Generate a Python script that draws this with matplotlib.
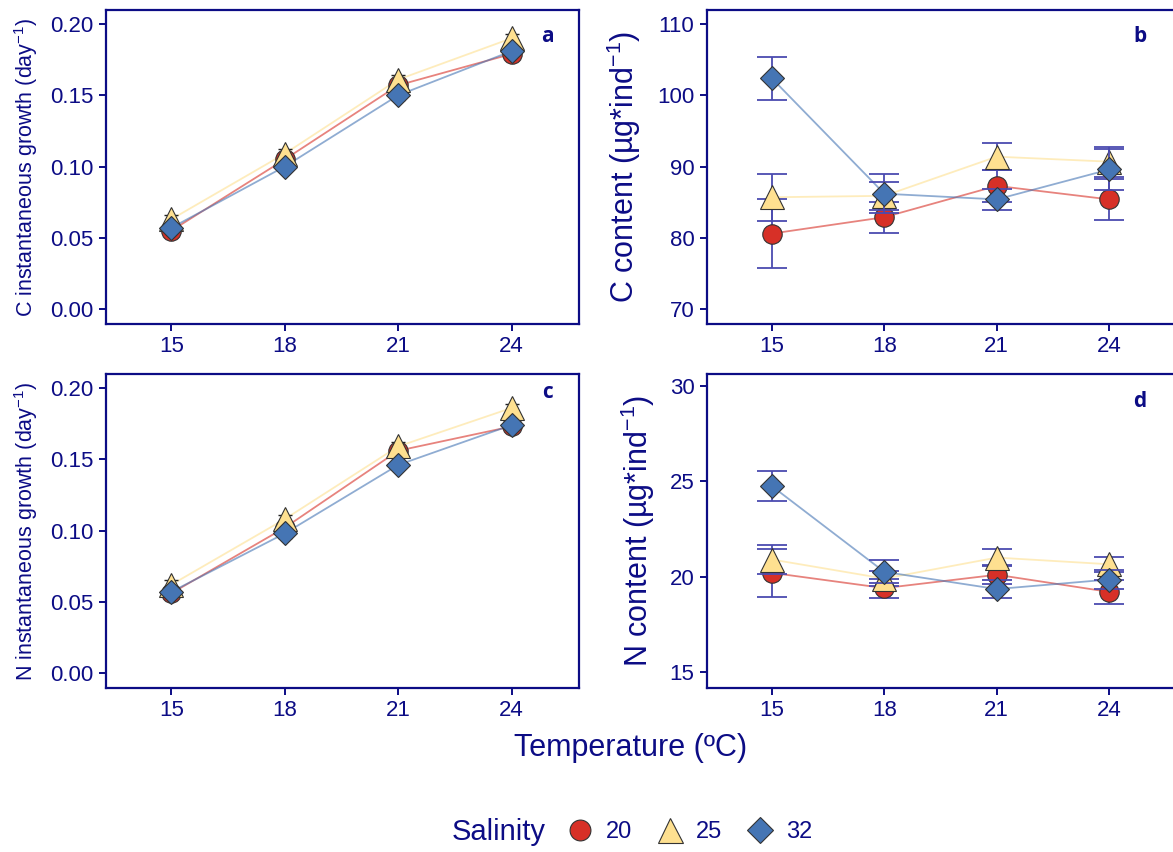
import numpy as np
import matplotlib.pyplot as plt
from matplotlib.lines import Line2D
from matplotlib.ticker import FormatStrFormatter

# Data
temps = [15, 18, 21, 24]
salinity = ['20', '25', '32']

c_growth_20 = [0.055, 0.105, 0.157, 0.179]
c_growth_25 = [0.063, 0.109, 0.161, 0.190]
c_growth_32 = [0.057, 0.100, 0.150, 0.181]
c_growth_err = [0.003, 0.003, 0.003, 0.003]

c_content_20 = [80.6, 82.9, 87.3, 85.4]
c_content_25 = [85.7, 85.9, 91.4, 90.7]
c_content_32 = [102.4, 86.2, 85.4, 89.6]
c_content_err_20 = [4.9, 2.2, 2.2, 2.9]
c_content_err_25 = [3.3, 2.0, 1.9, 2.1]
c_content_err_32 = [3.0, 2.7, 1.5, 2.9]

n_growth_20 = [0.056, 0.102, 0.156, 0.173]
n_growth_25 = [0.062, 0.108, 0.159, 0.186]
n_growth_32 = [0.057, 0.098, 0.146, 0.174]
n_growth_err = [0.003, 0.003, 0.003, 0.003]

n_content_20 = [20.2, 19.4, 20.1, 19.2]
n_content_25 = [20.9, 19.9, 21.0, 20.65]
n_content_32 = [24.75, 20.25, 19.35, 19.85]
n_content_err_20 = [1.25, 0.5, 0.5, 0.65]
n_content_err_25 = [0.75, 0.4, 0.45, 0.4]
n_content_err_32 = [0.8, 0.6, 0.45, 0.5]

# Style
NAVY = '#0c0c85'
colors = ['#d73027', '#fee090', '#4575b4']
markers = ['o', '^', 'D']
msizes = [14, 17, 12]
plt.rcParams['font.family'] = ['Liberation Sans', 'DejaVu Sans']
plt.rcParams['mathtext.default'] = 'regular'

W, H = 1173, 852


def px_axes(fig, left, top, right, bottom):
    return fig.add_axes([left / W, 1 - bottom / H, (right - left) / W, (bottom - top) / H])


def style_axes(ax, yticks, fmt=None):
    for s in ax.spines.values():
        s.set_color(NAVY)
        s.set_linewidth(1.6)
    ax.set_xlim(13.27, 25.78)
    ax.set_xticks(temps)
    ax.set_yticks(yticks)
    if fmt:
        ax.yaxis.set_major_formatter(FormatStrFormatter(fmt))
    ax.tick_params(colors=NAVY, labelcolor=NAVY, labelsize=16, length=5, width=1.4, pad=4)


def draw_series(ax, series, errs, err_color, capsize, elw):
    for i, (vals, err) in enumerate(zip(series, errs)):
        ax.plot(temps, vals, color=colors[i], lw=1.3, alpha=0.6, zorder=2)
        ax.errorbar(temps, vals, yerr=err, fmt='none', ecolor=err_color, elinewidth=elw,
                    capsize=capsize, capthick=elw, zorder=3 + i)
        ax.plot(temps, vals, linestyle='none', marker=markers[i], ms=msizes[i],
                markerfacecolor=colors[i], markeredgecolor='#333333', markeredgewidth=0.8,
                zorder=3 + i)


def panel_letter(ax, letter, x, y):
    ax.text(x, y, letter, transform=ax.transAxes, color=NAVY, fontsize=15,
            fontweight='bold', ha='center', va='center', family='Open Sans')


def main():
    fig = plt.figure(figsize=(W / 100, H / 100), dpi=100)

    ax_a = px_axes(fig, 106, 10, 579, 324)
    ax_b = px_axes(fig, 707, 10, 1176, 324)
    ax_c = px_axes(fig, 106, 374, 579, 688)
    ax_d = px_axes(fig, 707, 374, 1176, 688)

    grey = '#222222'
    draw_series(ax_a, [c_growth_20, c_growth_25, c_growth_32],
                [c_growth_err] * 3, grey, 5, 1.0)
    draw_series(ax_c, [n_growth_20, n_growth_25, n_growth_32],
                [n_growth_err] * 3, grey, 5, 1.0)
    err_blue = '#4b4bb0'
    draw_series(ax_b, [c_content_20, c_content_25, c_content_32],
                [c_content_err_20, c_content_err_25, c_content_err_32], err_blue, 11, 1.3)
    draw_series(ax_d, [n_content_20, n_content_25, n_content_32],
                [n_content_err_20, n_content_err_25, n_content_err_32], err_blue, 11, 1.3)

    growth_ticks = [0.0, 0.05, 0.10, 0.15, 0.20]
    style_axes(ax_a, growth_ticks, '%.2f')
    style_axes(ax_c, growth_ticks, '%.2f')
    style_axes(ax_b, [70, 80, 90, 100, 110])
    style_axes(ax_d, [15, 20, 25, 30])
    ax_a.set_ylim(-0.0105, 0.2098)
    ax_c.set_ylim(-0.0105, 0.2098)
    ax_b.set_ylim(67.9, 112.0)
    ax_d.set_ylim(14.16, 30.63)

    ax_a.set_ylabel('C instantaneous growth (day$^{-1}$)', color=NAVY, fontsize=15.5, labelpad=7)
    ax_c.set_ylabel('N instantaneous growth (day$^{-1}$)', color=NAVY, fontsize=15.5, labelpad=7)
    ax_b.set_ylabel('C content (µg*ind$^{-1}$)', color=NAVY, fontsize=22, labelpad=10)
    ax_d.set_ylabel('N content (µg*ind$^{-1}$)', color=NAVY, fontsize=22, labelpad=9)

    panel_letter(ax_a, 'a', 0.934, 0.917)
    panel_letter(ax_b, 'b', 0.923, 0.917)
    panel_letter(ax_c, 'c', 0.934, 0.94)
    panel_letter(ax_d, 'd', 0.923, 0.914)

    fig.text(631 / W, 1 - 748 / H, 'Temperature (ºC)', color=NAVY, fontsize=22,
             ha='center', va='center')

    # Legend
    fig.text(452 / W, 1 - 832 / H, 'Salinity', color=NAVY, fontsize=21, ha='left', va='center')
    handles = [Line2D([], [], linestyle='none', marker=markers[i], ms=msizes[i] + 1,
                      markerfacecolor=colors[i], markeredgecolor='#333333', markeredgewidth=0.8)
               for i in range(3)]
    leg = fig.legend(handles, salinity, loc='center left', bbox_to_anchor=(566 / W, 1 - 832 / H),
                     ncol=3, frameon=False, fontsize=17, handlelength=1.2, handletextpad=0.5,
                     columnspacing=1.0, borderaxespad=0, borderpad=0)
    for t in leg.get_texts():
        t.set_color(NAVY)

    fig.savefig('out.png', dpi=100)


if __name__ == '__main__':
    main()
